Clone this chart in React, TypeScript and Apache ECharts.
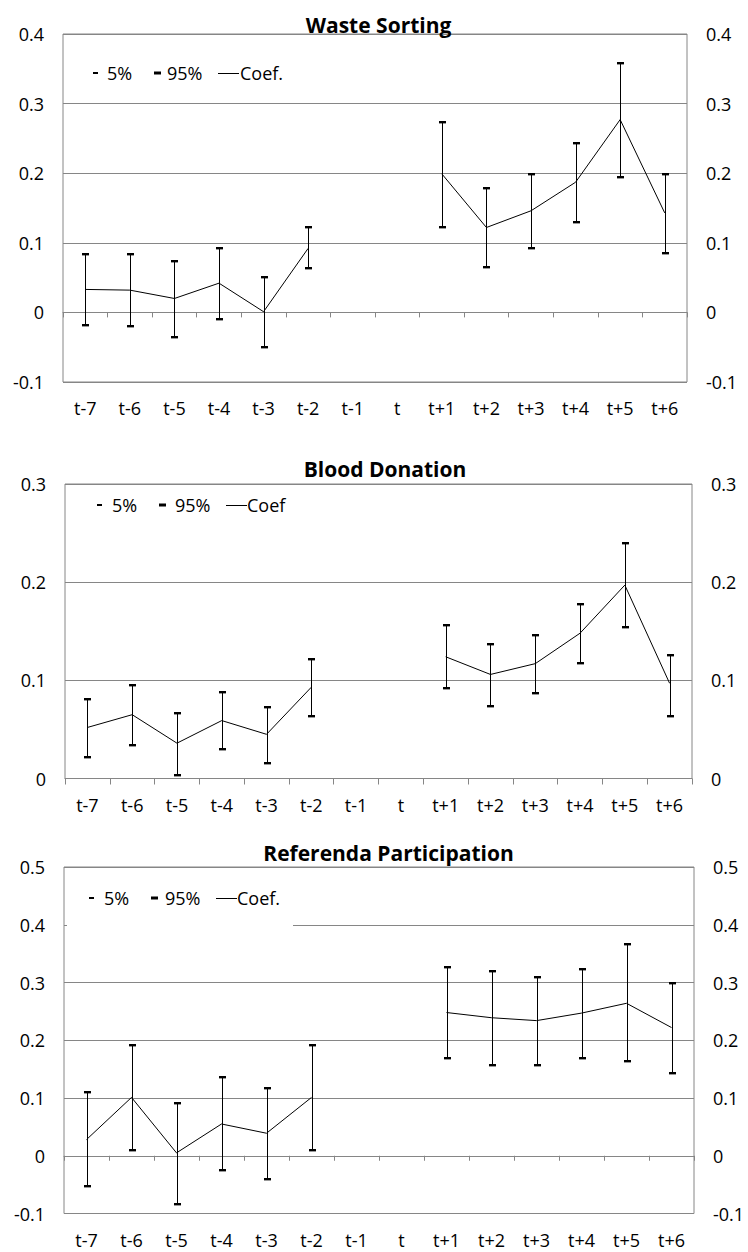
import React, { useEffect, useRef } from "react";
import * as echarts from "echarts";

const categories = ["t-7", "t-6", "t-5", "t-4", "t-3", "t-2", "t-1", "t", "t+1", "t+2", "t+3", "t+4", "t+5", "t+6"];

const wasteTitle = "Waste Sorting";
const wasteCoef = [0.033, 0.032, 0.020, 0.042, 0.001, 0.092, null, null, 0.199, 0.122, 0.146, 0.187, 0.277, 0.143];
const wasteLow = [-0.018, -0.019, -0.035, -0.009, -0.050, 0.064, null, null, 0.122, 0.065, 0.093, 0.130, 0.195, 0.086];
const wasteHigh = [0.084, 0.084, 0.074, 0.092, 0.051, 0.122, null, null, 0.274, 0.179, 0.199, 0.244, 0.359, 0.199];
const wasteTicks = { min: -0.1, max: 0.4, interval: 0.1 };

const bloodTitle = "Blood Donation";
const bloodCoef = [0.052, 0.065, 0.036, 0.059, 0.045, 0.093, null, null, 0.124, 0.106, 0.117, 0.148, 0.197, 0.097];
const bloodLow = [0.022, 0.034, 0.004, 0.030, 0.016, 0.064, null, null, 0.092, 0.074, 0.087, 0.118, 0.154, 0.064];
const bloodHigh = [0.081, 0.095, 0.067, 0.088, 0.073, 0.122, null, null, 0.156, 0.137, 0.146, 0.178, 0.240, 0.126];
const bloodTicks = { min: 0, max: 0.3, interval: 0.1 };

const refTitle = "Referenda Participation";
const refCoef = [0.028, 0.101, 0.005, 0.055, 0.039, 0.101, null, null, 0.248, 0.239, 0.234, 0.247, 0.264, 0.222];
const refLow = [-0.053, 0.010, -0.083, -0.025, -0.041, 0.010, null, null, 0.169, 0.158, 0.158, 0.169, 0.164, 0.143];
const refHigh = [0.110, 0.191, 0.091, 0.136, 0.118, 0.191, null, null, 0.327, 0.320, 0.310, 0.323, 0.366, 0.300];
const refTicks = { min: -0.1, max: 0.5, interval: 0.1 };

const legend5 = "5%";
const legend95 = "95%";
const legendCoefA = "Coef.";
const legendCoefB = "Coef";

const FONT = "'Open Sans', sans-serif";
const GRAY = "#868686";
const LABEL_SIZE = 18;
const TITLE_SIZE = 21;

type Panel = {
  title: string;
  coef: (number | null)[];
  low: (number | null)[];
  high: (number | null)[];
  ticks: { min: number; max: number; interval: number };
  coefLabel: string;
  grid: { left: number; right: number; top: number; height: number };
  titlePos: [number, number];
  legendY: number;
  legendX: { m5: number; t5: number; m95: number; t95: number; l1: number; l2: number; tc: number };
  zeroLine: boolean;
  legendBg?: { x: number; y: number; w: number; h: number };
};

const panels: Panel[] = [
  {
    title: wasteTitle, coef: wasteCoef, low: wasteLow, high: wasteHigh, ticks: wasteTicks, coefLabel: legendCoefA,
    grid: { left: 63, right: 61, top: 34, height: 348 },
    titlePos: [378.5, 25],
    legendY: 73,
    legendX: { m5: 93, t5: 107, m95: 154, t95: 167, l1: 218, l2: 239, tc: 240 },
    zeroLine: true,
  },
  {
    title: bloodTitle, coef: bloodCoef, low: bloodLow, high: bloodHigh, ticks: bloodTicks, coefLabel: legendCoefB,
    grid: { left: 65, right: 56, top: 484, height: 294.5 },
    titlePos: [385, 469],
    legendY: 505,
    legendX: { m5: 97, t5: 112, m95: 159, t95: 175, l1: 226, l2: 247, tc: 247 },
    zeroLine: false,
  },
  {
    title: refTitle, coef: refCoef, low: refLow, high: refHigh, ticks: refTicks, coefLabel: legendCoefA,
    grid: { left: 64, right: 54, top: 867, height: 346.5 },
    titlePos: [388.5, 853],
    legendY: 898,
    legendX: { m5: 89, t5: 104, m95: 151, t95: 165, l1: 216, l2: 237, tc: 237 },
    zeroLine: true,
    legendBg: { x: 67, y: 880, w: 226, h: 50 },
  },
];

function fmt(v: number) {
  const r = Math.round(v * 10) / 10;
  return r === 0 ? "0" : String(r);
}

function buildOption() {
  const grid: any[] = [];
  const xAxis: any[] = [];
  const yAxis: any[] = [];
  const series: any[] = [];
  const graphic: any[] = [];

  panels.forEach((p, gi) => {
    grid.push({ ...p.grid, show: true, borderColor: GRAY, borderWidth: 1, backgroundColor: "transparent", containLabel: false });
    const labelAxisIndex = xAxis.length;
    xAxis.push({
      type: "category",
      gridIndex: gi,
      data: categories,
      position: "bottom",
      boundaryGap: true,
      axisLine: { show: !p.zeroLine, onZero: false, lineStyle: { color: GRAY, width: 1 } },
      axisTick: { show: !p.zeroLine, length: 6, lineStyle: { color: GRAY } },
      axisLabel: { color: "#000", fontSize: LABEL_SIZE, fontFamily: FONT, margin: 17, interval: 0 },
      splitLine: { show: false },
    });
    if (p.zeroLine) {
      xAxis.push({
        type: "category",
        gridIndex: gi,
        data: categories,
        position: "top",
        boundaryGap: true,
        axisLine: { show: true, onZero: true, lineStyle: { color: GRAY, width: 1 } },
        axisTick: { show: true, inside: true, length: 5, lineStyle: { color: GRAY } },
        axisLabel: { show: false },
        splitLine: { show: false },
      });
    }
    const leftIdx = yAxis.length;
    yAxis.push({
      type: "value",
      gridIndex: gi,
      position: "left",
      min: p.ticks.min,
      max: p.ticks.max,
      interval: p.ticks.interval,
      axisLine: { show: false },
      axisTick: { show: false },
      axisLabel: { color: "#000", fontSize: LABEL_SIZE, fontFamily: FONT, margin: 19, formatter: fmt },
      splitLine: { show: true, lineStyle: { color: GRAY, width: 1 } },
    });
    yAxis.push({
      type: "value",
      gridIndex: gi,
      position: "right",
      min: p.ticks.min,
      max: p.ticks.max,
      interval: p.ticks.interval,
      axisLine: { show: false },
      axisTick: { show: false },
      axisLabel: { color: "#000", fontSize: LABEL_SIZE, fontFamily: FONT, margin: 19, formatter: fmt },
      splitLine: { show: false },
    });

    const errData: any[] = [];
    categories.forEach((_, i) => {
      if (p.low[i] != null && p.high[i] != null) errData.push([i, p.low[i], p.high[i]]);
    });

    series.push({
      type: "custom",
      name: "range" + gi,
      xAxisIndex: labelAxisIndex,
      yAxisIndex: leftIdx,
      data: errData,
      encode: { x: 0, y: [1, 2] },
      z: 3,
      renderItem: (_params: any, api: any) => {
        const x = api.value(0);
        const lo = api.coord([x, api.value(1)]);
        const hi = api.coord([x, api.value(2)]);
        const cx = Math.round(lo[0]) + 0.5;
        return {
          type: "group",
          children: [
            { type: "line", shape: { x1: cx, y1: hi[1], x2: cx, y2: lo[1] }, style: { stroke: "#000", lineWidth: 1 } },
            { type: "rect", shape: { x: cx - 3.5, y: Math.round(hi[1]) - 1, width: 7, height: 2.4 }, style: { fill: "#000" } },
            { type: "rect", shape: { x: cx - 3.5, y: Math.round(lo[1]) - 1, width: 7, height: 2.4 }, style: { fill: "#000" } },
          ],
        };
      },
    });
    series.push({
      type: "line",
      name: p.coefLabel + gi,
      xAxisIndex: labelAxisIndex,
      yAxisIndex: leftIdx,
      data: p.coef,
      symbol: "none",
      showSymbol: false,
      connectNulls: false,
      lineStyle: { color: "#000", width: 1 },
      z: 4,
    });

    graphic.push({
      type: "text",
      x: p.titlePos[0],
      y: p.titlePos[1],
      z: 20,
      style: { text: p.title, fontSize: TITLE_SIZE, fontWeight: "bold", fontFamily: FONT, fill: "#000", align: "center", verticalAlign: "middle" },
    });
    if (p.legendBg) {
      graphic.push({ type: "rect", z: 15, shape: { x: p.legendBg.x, y: p.legendBg.y, width: p.legendBg.w, height: p.legendBg.h }, style: { fill: "#fff" } });
    }
    const ly = p.legendY;
    const lx = p.legendX;
    graphic.push({ type: "rect", z: 20, shape: { x: lx.m5, y: ly - 1, width: 5, height: 2 }, style: { fill: "#000" } });
    graphic.push({ type: "text", z: 20, x: lx.t5, y: ly, style: { text: legend5, fontSize: LABEL_SIZE, fontFamily: FONT, fill: "#000", align: "left", verticalAlign: "middle" } });
    graphic.push({ type: "rect", z: 20, shape: { x: lx.m95, y: ly - 1.5, width: 7, height: 3 }, style: { fill: "#000" } });
    graphic.push({ type: "text", z: 20, x: lx.t95, y: ly, style: { text: legend95, fontSize: LABEL_SIZE, fontFamily: FONT, fill: "#000", align: "left", verticalAlign: "middle" } });
    graphic.push({ type: "line", z: 20, shape: { x1: lx.l1, y1: ly + 0.5, x2: lx.l2, y2: ly + 0.5 }, style: { stroke: "#000", lineWidth: 1 } });
    graphic.push({ type: "text", z: 20, x: lx.tc, y: ly, style: { text: p.coefLabel, fontSize: LABEL_SIZE, fontFamily: FONT, fill: "#000", align: "left", verticalAlign: "middle" } });
  });

  return {
    animation: false,
    backgroundColor: "#fff",
    textStyle: { fontFamily: FONT },
    grid,
    xAxis,
    yAxis,
    series,
    graphic,
  };
}

export default function App() {
  const ref = useRef<HTMLDivElement>(null);
  useEffect(() => {
    if (!ref.current) return;
    const chart = echarts.init(ref.current, undefined, { renderer: "svg" });
    chart.setOption(buildOption() as any);
    return () => chart.dispose();
  }, []);
  return <div ref={ref} style={{ position: "absolute", left: 0, top: 0, width: 748, height: 1252 }} />;
}
